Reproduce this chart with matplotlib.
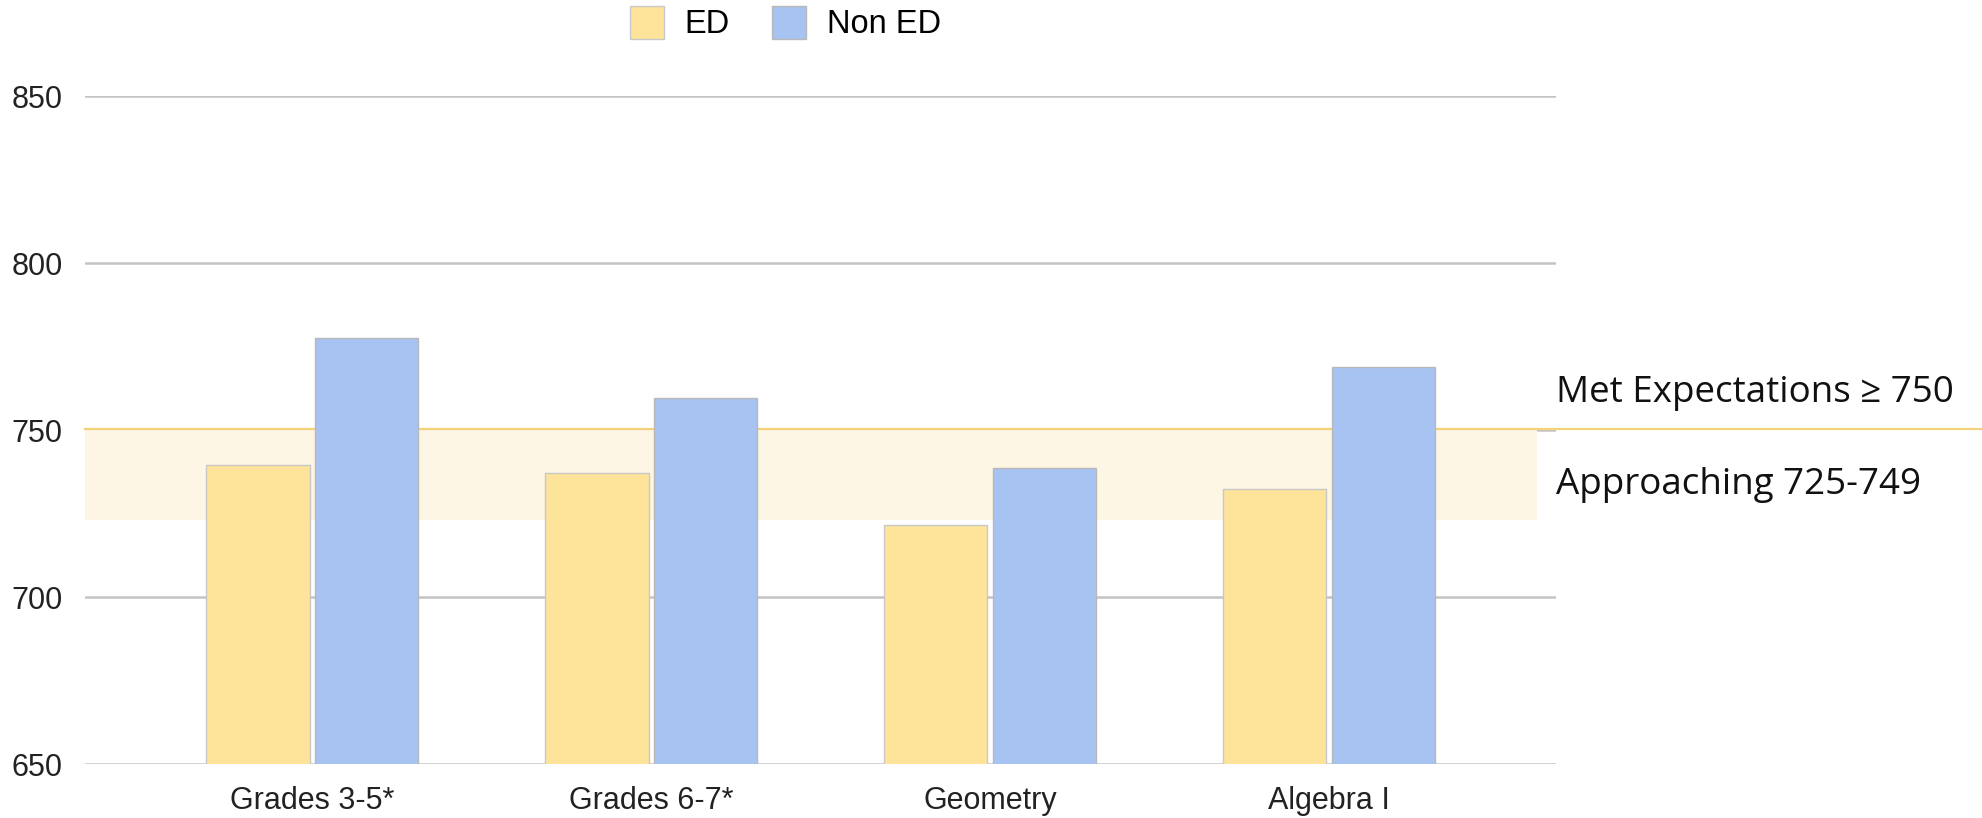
import matplotlib
matplotlib.use("Agg")
import matplotlib.pyplot as plt
import numpy as np

categories = ["Grades 3-5*", "Grades 6-7*", "Geometry", "Algebra I"]
ed_scores = [739.5, 737.2, 721.6, 732.3]
non_ed_scores = [777.5, 759.5, 738.7, 769.0]
y_ticks = [650, 700, 750, 800, 850]
met_level = 750
approach_low = 723

ed_color = "#fde49a"
non_ed_color = "#a7c3f2"

fig = plt.figure(figsize=(19.83, 8.18), dpi=100)
ax = fig.add_axes([0.0429, 0.066, 0.7418, 0.8166])

x = np.arange(len(categories))
w = 0.305
ax.bar(x - 0.16, ed_scores, w, color=ed_color, edgecolor="#c8c8c8",
       linewidth=1, zorder=3, label="ED")
ax.bar(x + 0.16, non_ed_scores, w, color=non_ed_color, edgecolor="#b8b8b8",
       linewidth=1, zorder=3, label="Non ED")

ax.set_xlim(-0.67, 3.67)
ax.set_ylim(650, 850)
ax.set_yticks(y_ticks)
ax.set_xticks(x)
ax.set_xticklabels(categories)

for t in y_ticks:
    ax.axhline(t, color="#c4c4c4", linewidth=1.8, zorder=1)

# approaching band and met expectations line
ax.axhspan(approach_low, met_level, xmin=0, xmax=0.987, color="#fef6e4",
           linewidth=0, zorder=1.5)
ax.axhline(met_level + 0.35, xmin=0, xmax=(1983 - 85) / 1471, color="#f5d27a",
           linewidth=1.6, zorder=2, clip_on=False)

ax.text(1.0, 761, "Met Expectations \u2265 750", transform=ax.get_yaxis_transform(),
        fontsize=26.5, family="Open Sans", color="#111111", va="center", ha="left")
ax.text(1.0, 733.6, "Approaching 725-749", transform=ax.get_yaxis_transform(),
        fontsize=26.5, family="Open Sans", color="#111111", va="center", ha="left")

for s in ax.spines.values():
    s.set_visible(False)
ax.tick_params(length=0, labelsize=22, colors="#222222")
ax.tick_params(axis="x", pad=16)
ax.tick_params(axis="y", pad=16)
for lab in ax.get_xticklabels() + ax.get_yticklabels():
    lab.set_family("Liberation Sans")

fig.legend(loc="center", bbox_to_anchor=(0.396, 0.972), ncol=2, frameon=False,
           prop={"family": "Liberation Sans", "size": 23.5}, handlelength=1.05,
           handleheight=1.2, columnspacing=1.3, handletextpad=0.62)

fig.savefig("out.png", dpi=100)
